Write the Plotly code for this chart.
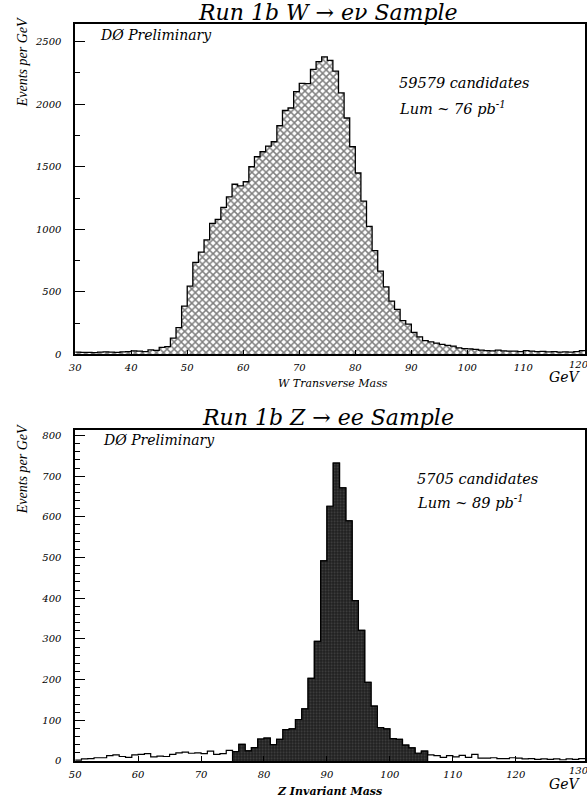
import plotly.graph_objects as go

# ---------------- data ----------------
w_edges = list(range(30, 121))  # 1 GeV bins, left edges 30..120
w_counts = [18, 15, 16, 14, 17, 20, 18, 15, 20, 22,
            28, 25, 22, 35, 32, 55, 62, 130, 214, 386,
            545, 735, 817, 915, 1048, 1079, 1175, 1259, 1360, 1347,
            1380, 1500, 1580, 1620, 1665, 1700, 1828, 1950, 1970, 2100,
            2167, 2165, 2278, 2340, 2378, 2350, 2264, 2090, 1890, 1660,
            1450, 1225, 1024, 830, 665, 540, 426, 360, 270, 241,
            175, 140, 110, 100, 90, 80, 72, 66, 52, 46,
            44, 40, 34, 30, 28, 33, 28, 26, 25, 22,
            30, 26, 22, 24, 20, 22, 18, 20, 18, 22,
            30]

z_edges = list(range(50, 131))  # 1 GeV bins, left edges 50..130
z_counts = [2, 5, 6, 8, 8, 13, 15, 11, 9, 15,
            16, 18, 10, 12, 11, 16, 20, 22, 19, 20,
            18, 24, 16, 18, 26, 23, 41, 25, 33, 54,
            56, 40, 53, 77, 79, 102, 128, 203, 294, 492,
            626, 732, 671, 590, 394, 321, 193, 135, 82, 79,
            55, 53, 39, 32, 19, 24, 15, 13, 9, 13,
            10, 14, 9, 16, 7, 7, 8, 6, 6, 8,
            7, 5, 6, 4, 5, 4, 5, 3, 5, 4,
            6]
z_sel_lo, z_sel_hi = 75, 106  # selected (filled) mass window

w_yticks = [0, 500, 1000, 1500, 2000, 2500]
z_yticks = [0, 100, 200, 300, 400, 500, 600, 700, 800]
w_xticks = [30, 40, 50, 60, 70, 80, 90, 100, 110, 120]
z_xticks = [50, 60, 70, 80, 90, 100, 110, 120, 130]

W, H = 587, 805
SERIF = "DejaVu Serif"
TIMES = "Liberation Serif"


def px(x):
    return x / W


def py(y):
    return 1 - y / H


def step(edges, counts):
    xs = list(edges) + [edges[-1] + 1]
    ys = list(counts) + [counts[-1]]
    return xs, ys


fig = go.Figure()

# W histogram (cross-hatched)
wx, wy = step(w_edges, w_counts)
fig.add_trace(go.Scatter(
    x=wx, y=wy, mode="lines", line=dict(shape="hv", color="black", width=1.3),
    fill="tozeroy", fillcolor="white",
    fillpattern=dict(shape="x", fgcolor="black", bgcolor="white", size=5, solidity=0.5),
    xaxis="x", yaxis="y", hoverinfo="skip", showlegend=False))

# Z histogram outline (full range)
zx, zy = step(z_edges, z_counts)
fig.add_trace(go.Scatter(
    x=zx, y=zy, mode="lines", line=dict(shape="hv", color="black", width=1.2),
    xaxis="x2", yaxis="y2", hoverinfo="skip", showlegend=False))

# Z selected window (dark fill)
sel = [(e, c) for e, c in zip(z_edges, z_counts) if z_sel_lo <= e < z_sel_hi]
sx = [sel[0][0]] + [e for e, _ in sel] + [z_sel_hi, z_sel_hi]
sy = [0] + [c for _, c in sel] + [sel[-1][1], 0]
fig.add_trace(go.Scatter(
    x=sx, y=sy, mode="lines", line=dict(shape="hv", color="black", width=1.2),
    fill="tozeroy", fillcolor="#2a2a2a",
    fillpattern=dict(shape=".", fgcolor="#6a6a6a", bgcolor="#1e1e1e", size=3, solidity=0.35),
    xaxis="x2", yaxis="y2", hoverinfo="skip", showlegend=False))

tickfont = dict(family=SERIF, size=10, color="black", style="italic")
axis_common = dict(showline=True, linecolor="black", linewidth=1.5, mirror=True,
                   showgrid=False, zeroline=False, ticks="inside", tickcolor="black",
                   tickfont=tickfont, fixedrange=True)

xd = [px(70), px(586)]
fig.update_layout(
    width=W, height=H, margin=dict(l=0, r=0, t=0, b=0),
    paper_bgcolor="white", plot_bgcolor="white",
    xaxis=dict(domain=xd, range=[30, 121], tickvals=w_xticks[:-1], ticklen=5,
               ticklabelstandoff=3, anchor="y", **axis_common),
    yaxis=dict(domain=[py(357), py(24)], range=[0, 2643], tickvals=w_yticks, ticklen=10,
               minor=dict(dtick=250, ticklen=5, ticks="inside", tickcolor="black"),
               ticklabelstandoff=10, anchor="x", **axis_common),
    xaxis2=dict(domain=xd, range=[50, 131], tickvals=z_xticks[:-1], ticklen=5,
                ticklabelstandoff=3, anchor="y2", **axis_common),
    yaxis2=dict(domain=[py(766.7), py(433)], range=[0, 814], tickvals=z_yticks, ticklen=10,
                minor=dict(dtick=20, ticklen=5, ticks="inside", tickcolor="black"),
                ticklabelstandoff=10, anchor="x2", **axis_common),
)

ann = []


def text(x, y, s, size, family=SERIF, xanchor="left", bold=False, angle=0,
         xref="paper", xval=None):
    ann.append(dict(x=px(x) if xval is None else xval, y=py(y), xref=xref, yref="paper",
                    text=s, showarrow=False, xanchor=xanchor, yanchor="middle",
                    textangle=angle,
                    font=dict(family=family, size=size, color="black", style="italic",
                              weight="bold" if bold else "normal")))


# last tick labels sit at the frame edge (partly cut in the reference)
text(0, 367, str(w_xticks[-1]), 10, xanchor="center", xref="x", xval=w_xticks[-1])
text(0, 776, str(z_xticks[-1]), 10, xanchor="center", xref="x2", xval=z_xticks[-1])

# titles
text(326, 13, "Run 1b W \u2192 e\u03bd Sample", 22, xanchor="center")
text(326, 421, "Run 1b Z \u2192 ee Sample", 22, xanchor="center")
# y-axis titles
text(17, 63, "Events per GeV", 14, family=TIMES, xanchor="center", angle=-90)
text(17, 473, "Events per GeV", 14, family=TIMES, xanchor="center", angle=-90)
# x-axis titles
text(331, 386, "W Transverse Mass", 11, xanchor="center")
text(327, 797, "Z Invariant Mass", 11, xanchor="center", bold=True)
text(565, 380, "GeV", 14, xanchor="center")
text(565, 790, "GeV", 14, xanchor="center")
# in-plot labels
text(93, 35, "D\u00d8 Preliminary", 14)
text(96, 443, "D\u00d8 Preliminary", 14)
text(396, 84, "59579 candidates", 14.5)
text(396, 109, "Lum ~ 76 pb<sup>-1</sup>", 14.5)
text(414, 483, "5705 candidates", 14.5)
text(414, 506, "Lum ~ 89 pb<sup>-1</sup>", 14.5)

fig.update_layout(annotations=ann)
fig.write_html("out.html")
